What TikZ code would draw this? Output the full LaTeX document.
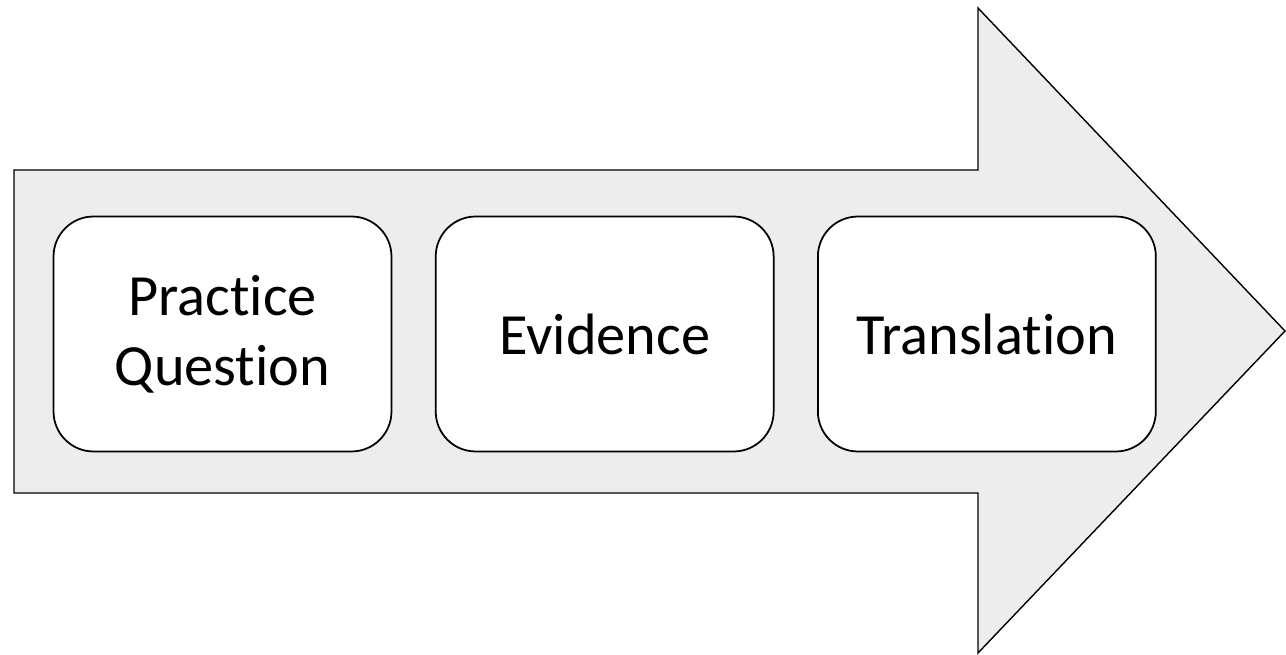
\documentclass[tikz,border=0pt]{standalone}
\usepackage{fontspec}
\setmainfont{Carlito}[Ligatures={NoCommon,NoContextual}]
\usepackage{tikz}
\usetikzlibrary{positioning}
\definecolor{flowFill}{HTML}{EDEDED}
\definecolor{flowLine}{HTML}{000000}
\tikzset{
  flowarrow/.style={draw=flowLine, fill=flowFill, line width=0.8pt, line join=miter},
  stagebox/.style={draw=flowLine, fill=white, line width=1pt, rounded corners=0.8cm,
    minimum width=6.76cm, minimum height=4.70cm, align=center,
    font=\fontsize{33.2}{39.8}\selectfont}
}

\begin{document}
\begin{tikzpicture}[x=0.02cm, y=-0.02cm, node distance=0.85cm]
    \useasboundingbox (0,0) rectangle (1286,655);

    % big block arrow behind the stages
    \draw[flowarrow] (14,170) -- (978,170) -- (978,8) -- (1285,331)
      -- (978,653) -- (978,493) -- (14,493) -- cycle;

    \node[stagebox] (practice) at (222.5,334) {Practice\\Question};
    \node[stagebox, right=of practice] (evidence) {Evidence};
    \node[stagebox, right=of evidence] (translation) {Translation};
  \end{tikzpicture}
\end{document}
